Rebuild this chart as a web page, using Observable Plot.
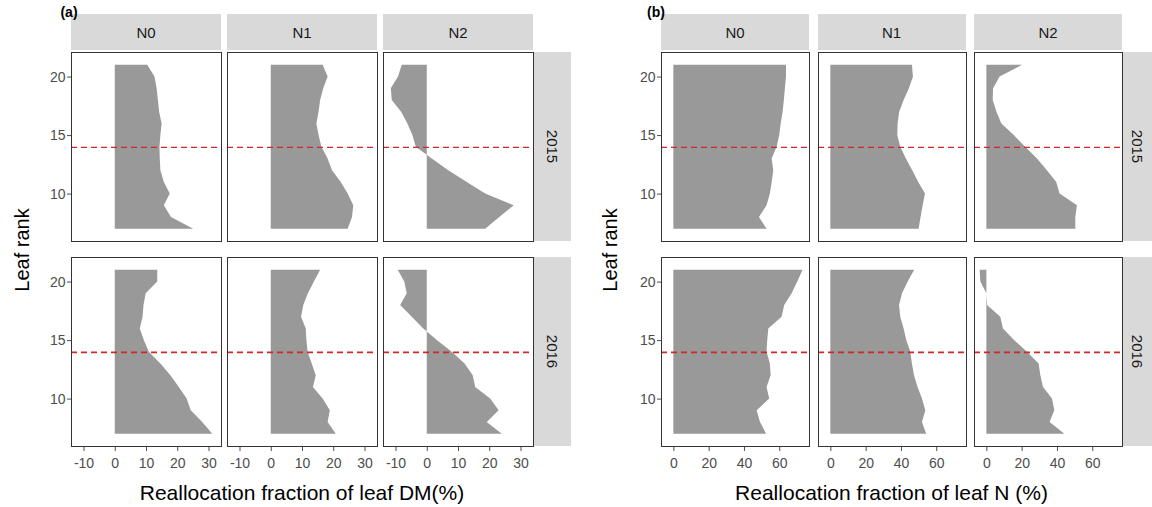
<!DOCTYPE html>
<html><head><meta charset="utf-8">
<script src="https://cdn.jsdelivr.net/npm/d3@7"></script>
<script src="https://cdn.jsdelivr.net/npm/@observablehq/plot@0.6"></script>
<style>
body{margin:0;background:#fff;}
#root{position:relative;width:1152px;height:507px;overflow:hidden;font-family:"Liberation Sans",Arial,sans-serif;background:#fff;}
.cell{position:absolute;}
.cell svg{overflow:visible;max-width:none;display:block;}
.strip{position:absolute;background:#d9d9d9;color:#1a1a1a;font-size:15px;display:flex;align-items:center;justify-content:center;}
.strip.v span{display:inline-block;transform:rotate(90deg);white-space:nowrap;}
.ttl{position:absolute;font-size:21px;color:#000;white-space:nowrap;transform:translate(-50%,-50%);}
.ytl{position:absolute;font-size:20px;color:#000;white-space:nowrap;transform:translate(-50%,-50%) rotate(-90deg);}
.plab{position:absolute;font-size:14px;font-weight:bold;color:#000;transform:translate(-50%,-50%);}
</style>
</head><body><div id="root"></div>
<script>
// ---- data (leaf rank 7 -> 21) ----
const ranks = [7,8,9,10,11,12,13,14,15,16,17,18,19,20,21];
const nLevels = ["N0","N1","N2"];
const years = ["2015","2016"];
const dmTicks = [-10,0,10,20,30];
const nTicks = [0,20,40,60];
const rankTicks = [10,15,20];
const refRank = [14];

const dm_N0_2015 = [25.1,18.0,15.7,17.6,15.7,14.6,14.4,14.3,14.6,15.0,14.2,13.8,13.4,12.7,10.4];
const dm_N1_2015 = [24.6,26.0,26.4,24.6,22.4,19.6,18.2,16.2,15.3,14.6,15.3,15.8,16.8,18.2,16.6];
const dm_N2_2015 = [18.7,23.2,27.8,18.7,12.8,6.9,1.6,-3.5,-4.6,-6.2,-8.2,-11.2,-11.5,-9.2,-8.0];
const dm_N0_2016 = [31.2,28.0,24.3,23.0,20.5,17.8,14.6,10.9,9.3,8.0,8.9,9.2,9.9,13.6,13.6];
const dm_N1_2016 = [20.8,18.2,18.9,16.6,13.5,14.4,13.1,11.8,11.4,11.2,9.7,10.4,11.9,13.8,15.8];
const dm_N2_2016 = [24.0,19.2,23.0,20.3,15.5,14.7,12.1,8.0,3.2,-1.1,-4.8,-8.5,-6.4,-7.2,-9.3];

const nn_N0_2015 = [52.8,48.5,52.8,54.7,55.7,56.6,55.7,58.5,60.0,60.8,61.9,62.6,63.2,63.8,63.8];
const nn_N1_2015 = [50.0,51.1,52.3,53.6,49.8,46.4,42.8,39.6,37.9,38.1,39.0,41.5,44.5,46.8,46.2];
const nn_N2_2015 = [50.4,50.4,51.3,41.5,39.6,34.3,28.7,22.0,15.5,8.5,5.7,3.6,3.8,7.5,20.2];
const nn_N0_2016 = [52.5,49.1,47.2,54.3,52.8,55.1,54.7,52.8,53.2,53.8,61.3,62.8,67.0,70.2,73.2];
const nn_N1_2016 = [54.3,51.9,53.8,51.9,49.4,47.4,46.2,45.3,43.0,41.5,39.6,38.9,40.6,43.8,47.5];
const nn_N2_2016 = [44.2,35.8,38.5,37.2,32.1,30.6,29.6,23.0,15.7,9.4,7.9,0.4,0.0,-3.4,-3.8];

// ---- panel definitions ----
const panels = [
  {label:"(a)", xTitle:"Reallocation fraction of leaf DM(%)", xDomain:[-14,34], xTicks:dmTicks,
   series:{"2015":[dm_N0_2015,dm_N1_2015,dm_N2_2015],"2016":[dm_N0_2016,dm_N1_2016,dm_N2_2016]},
   colLeft:[71,227,383], W:150, stripX:534, stripW:37, labX:69, yTitleX:22},
  {label:"(b)", xTitle:"Reallocation fraction of leaf N (%)", xDomain:[-7,76.85], xTicks:nTicks,
   series:{"2015":[nn_N0_2015,nn_N1_2015,nn_N2_2015],"2016":[nn_N0_2016,nn_N1_2016,nn_N2_2016]},
   colLeft:[661,817.5,974], W:148, stripX:1123, stripW:29, labX:656, yTitleX:610}
];
const rowTop = [52,257], H = 189, yDomain = [5.95,22.1];
const ML = 40, MB = 40;
const root = document.getElementById("root");

function add(el){root.appendChild(el);return el;}
function div(cls, css, html){const d=document.createElement("div");d.className=cls;Object.assign(d.style,css);if(html!=null)d.innerHTML=html;return add(d);}

panels.forEach(p => {
  years.forEach((yr, i) => {
    nLevels.forEach((lv, j) => {
      const data = ranks.map((r,k) => ({rank:r, v:p.series[yr][j][k]}));
      const isLeft = j===0, isBottom = i===1;
      const w = p.W + (isLeft?ML:0), h = H + (isBottom?MB:0);
      const chart = Plot.plot({
        width:w, height:h,
        marginLeft:isLeft?ML:0, marginRight:0, marginTop:0, marginBottom:isBottom?MB:0,
        style:{fontFamily:"Liberation Sans, Arial, sans-serif", fontSize:"14px", color:"#4d4d4d", background:"transparent", overflow:"visible"},
        x:{domain:p.xDomain, ticks:p.xTicks, tickFormat:d=>String(d), tickSize:5, tickPadding:7, label:null, axis:isBottom?"bottom":null},
        y:{domain:yDomain, ticks:rankTicks, tickFormat:d=>String(d), tickSize:4, tickPadding:2, label:null, axis:isLeft?"left":null},
        marks:[
          Plot.areaX(data, {y:"rank", x1:()=>0, x2:"v", fill:"#999999"}),
          Plot.ruleY(refRank, {stroke:"#cc2a2a", strokeDasharray:"6,4", strokeWidth:i===0?1.2:1.8}),
          Plot.frame({stroke:"#333333", strokeWidth:1})
        ]
      });
      const cell = div("cell", {left:(p.colLeft[j]-(isLeft?ML:0))+"px", top:rowTop[i]+"px", width:w+"px", height:h+"px"});
      cell.appendChild(chart);
    });
    // row strip
    div("strip v", {left:p.stripX+"px", top:rowTop[i]+"px", width:p.stripW+"px", height:H+"px"}, "<span>"+yr+"</span>");
  });
  // column strips
  nLevels.forEach((lv,j) => {
    div("strip", {left:p.colLeft[j]+"px", top:"14px", width:p.W+"px", height:"36px"}, lv);
  });
  const cx = (p.colLeft[0] + p.colLeft[2] + p.W)/2;
  div("ttl", {left:cx+"px", top:"493px"}, p.xTitle);
  div("ytl", {left:p.yTitleX+"px", top:"250px"}, "Leaf rank");
  div("plab", {left:p.labX+"px", top:"12px"}, p.label);
});
</script>
</body></html>
